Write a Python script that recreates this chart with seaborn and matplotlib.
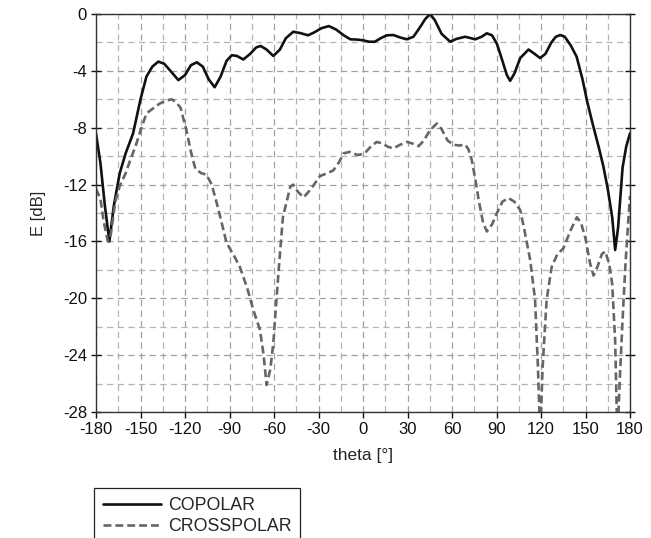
import numpy as np
import pandas as pd
import matplotlib
matplotlib.use("Agg")
import matplotlib.pyplot as plt
import seaborn as sns
from matplotlib.ticker import MultipleLocator
from matplotlib.lines import Line2D

cop_theta = [-180, -177, -174, -171, -168, -164, -160, -155, -150, -146, -142, -138, -134, -129,
             -124.5, -120, -116, -112, -108, -104, -100, -96, -92, -88.5, -85, -80.7, -76, -72,
             -69, -65, -60.5, -56, -52, -47, -42, -37, -33, -28, -23, -18, -13, -8.5, -4, 0, 4,
             8, 12, 16, 20.5, 25, 29.5, 34, 38, 42, 45.3, 48.5, 53, 58.8, 63, 68.9, 75.7, 80, 83.5,
             87, 90.3, 94, 97, 99.2, 102, 106, 111.6, 115, 119.4, 123, 127, 130, 133, 136, 140,
             144, 148, 151, 155, 159, 162, 165, 168, 170, 172, 175, 177.5, 180]
cop_db = [-8.4, -10.5, -13.5, -16.0, -13.5, -11.2, -9.8, -8.4, -6.0, -4.4, -3.7, -3.35, -3.5, -4.1,
          -4.65, -4.3, -3.6, -3.4, -3.7, -4.6, -5.15, -4.4, -3.3, -2.9, -2.95, -3.2, -2.8, -2.35,
          -2.25, -2.5, -2.95, -2.5, -1.7, -1.25, -1.35, -1.5, -1.3, -1.0, -0.85, -1.1, -1.5, -1.78,
          -1.8, -1.85, -1.95, -1.95, -1.7, -1.5, -1.48, -1.65, -1.78, -1.6, -1.0, -0.35, 0.0, -0.45,
          -1.4, -1.95, -1.75, -1.6, -1.78, -1.6, -1.36, -1.5, -2.1, -3.3, -4.3, -4.7, -4.2, -3.1,
          -2.5, -2.75, -3.1, -2.8, -2.0, -1.6, -1.48, -1.6, -2.2, -3.0, -4.6, -6.1, -7.8, -9.4,
          -10.7, -12.3, -14.3, -16.6, -15.0, -10.8, -9.3, -8.4]

xp_theta = [-180, -177, -175, -172, -170, -167, -164, -160, -157, -153, -150, -146, -141, -137,
            -133, -129, -126, -123, -119, -116, -113, -109, -105.5, -102, -98.6, -95, -92, -87,
            -83, -78, -74, -69.5, -67, -65, -62.5, -60.5, -57, -54, -51, -49, -47, -44, -40, -35,
            -29, -24, -20, -16, -13, -9, -4.3, -1.9, 2, 5.5, 9.3, 13, 17, 20.5, 25, 29.6, 33,
            37.5, 41, 45, 49.8, 53, 57, 61, 65, 68.9, 71, 73.4, 76, 78, 81, 83.5, 87, 90.3, 94,
            98.1, 102, 106, 109, 112.7, 116, 118, 119.5, 121, 123.8, 127.2, 131, 135, 140, 144.2,
            147, 150, 153, 155.4, 158, 161, 163.3, 166, 168, 170, 171.5, 173, 175, 177, 179, 180]
xp_db = [-12.3, -13.0, -14.5, -16.0, -15.5, -13.2, -12.1, -11.2, -10.3, -9.2, -8.2, -7.0, -6.6,
         -6.3, -6.1, -6.0, -6.2, -6.6, -8.2, -9.7, -10.9, -11.2, -11.3, -12.0, -13.3, -14.8, -16.1,
         -17.0, -17.8, -19.3, -20.8, -22.2, -24.0, -26.1, -25.0, -23.2, -18.2, -14.3, -13.0,
         -12.15, -12.0, -12.5, -12.9, -12.3, -11.4, -11.2, -11.0, -10.4, -9.8, -9.7, -9.9, -9.9,
         -9.7, -9.3, -9.0, -9.1, -9.35, -9.45, -9.2, -9.0, -9.1, -9.3, -8.9, -8.2, -7.7, -8.1,
         -8.9, -9.2, -9.25, -9.2, -9.5, -10.3, -11.8, -13.1, -14.7, -15.3, -14.8, -14.0, -13.2,
         -12.95, -13.2, -13.8, -15.3, -17.3, -20.1, -25.0, -30.0, -25.0, -20.1, -17.8, -16.9,
         -16.5, -15.2, -14.3, -14.7, -15.8, -17.5, -18.4, -17.8, -16.9, -16.7, -17.6, -19.0,
         -23.0, -30.0, -26.0, -21.5, -17.5, -14.3, -12.8]

x_ticks = list(range(-180, 181, 30))
y_ticks = list(range(-28, 1, 4))

df = pd.concat([
    pd.DataFrame({"theta": cop_theta, "E": cop_db, "pol": "COPOLAR"}),
    pd.DataFrame({"theta": xp_theta, "E": xp_db, "pol": "CROSSPOLAR"}),
], ignore_index=True)

sns.set_style("white")
plt.rcParams["font.family"] = ["Liberation Sans", "DejaVu Sans"]
plt.rcParams["axes.unicode_minus"] = False

fig = plt.figure(figsize=(6.51, 5.38), dpi=100)
ax = fig.add_axes([96 / 651, 1 - 412 / 538, 534 / 651, 398 / 538])

sns.lineplot(data=df, x="theta", y="E", hue="pol", style="pol",
             palette={"COPOLAR": "#111111", "CROSSPOLAR": "#666666"},
             dashes={"COPOLAR": "", "CROSSPOLAR": (3, 1.5)},
             linewidth=1.9, sort=False, estimator=None, ax=ax, legend=False)

ax.set_xlim(-180, 180)
ax.set_ylim(-28, 0)
ax.set_xticks(x_ticks)
ax.set_yticks(y_ticks)
ax.xaxis.set_minor_locator(MultipleLocator(15))
ax.yaxis.set_minor_locator(MultipleLocator(2))
ax.grid(True, which="major", color="#a0a0a0", linestyle=(0, (5, 3.5)), linewidth=0.9)
ax.grid(True, which="minor", color="#b4b4b4", linestyle=(0, (5, 3.5)), linewidth=0.9)
ax.tick_params(which="major", direction="out", length=4, width=1, left=True, bottom=True,
               labelsize=12, colors="#111111", pad=3)
ax.tick_params(axis="y", which="major", right=True, direction="inout", length=7)
ax.tick_params(which="minor", length=0)
for s in ax.spines.values():
    s.set_color("#333333")
    s.set_linewidth(1.0)
ax.set_xlabel("theta [°]", fontsize=12.5, labelpad=8)
ax.set_ylabel("E [dB]", fontsize=12, labelpad=12)

handles = [Line2D([], [], color="#111111", lw=1.9),
           Line2D([], [], color="#666666", lw=1.9, dashes=(3, 1.5))]
leg = fig.legend(handles, ["COPOLAR", "CROSSPOLAR"], loc="upper left",
                 bbox_to_anchor=(94 / 651, 1 - 488 / 538), fontsize=12.8, frameon=True,
                 fancybox=False, edgecolor="#222222", framealpha=1, handlelength=3.25,
                 handletextpad=0.4, borderpad=0.5, labelspacing=0.24, borderaxespad=0)
leg.get_frame().set_linewidth(0.9)

fig.savefig("out.png", dpi=100)
